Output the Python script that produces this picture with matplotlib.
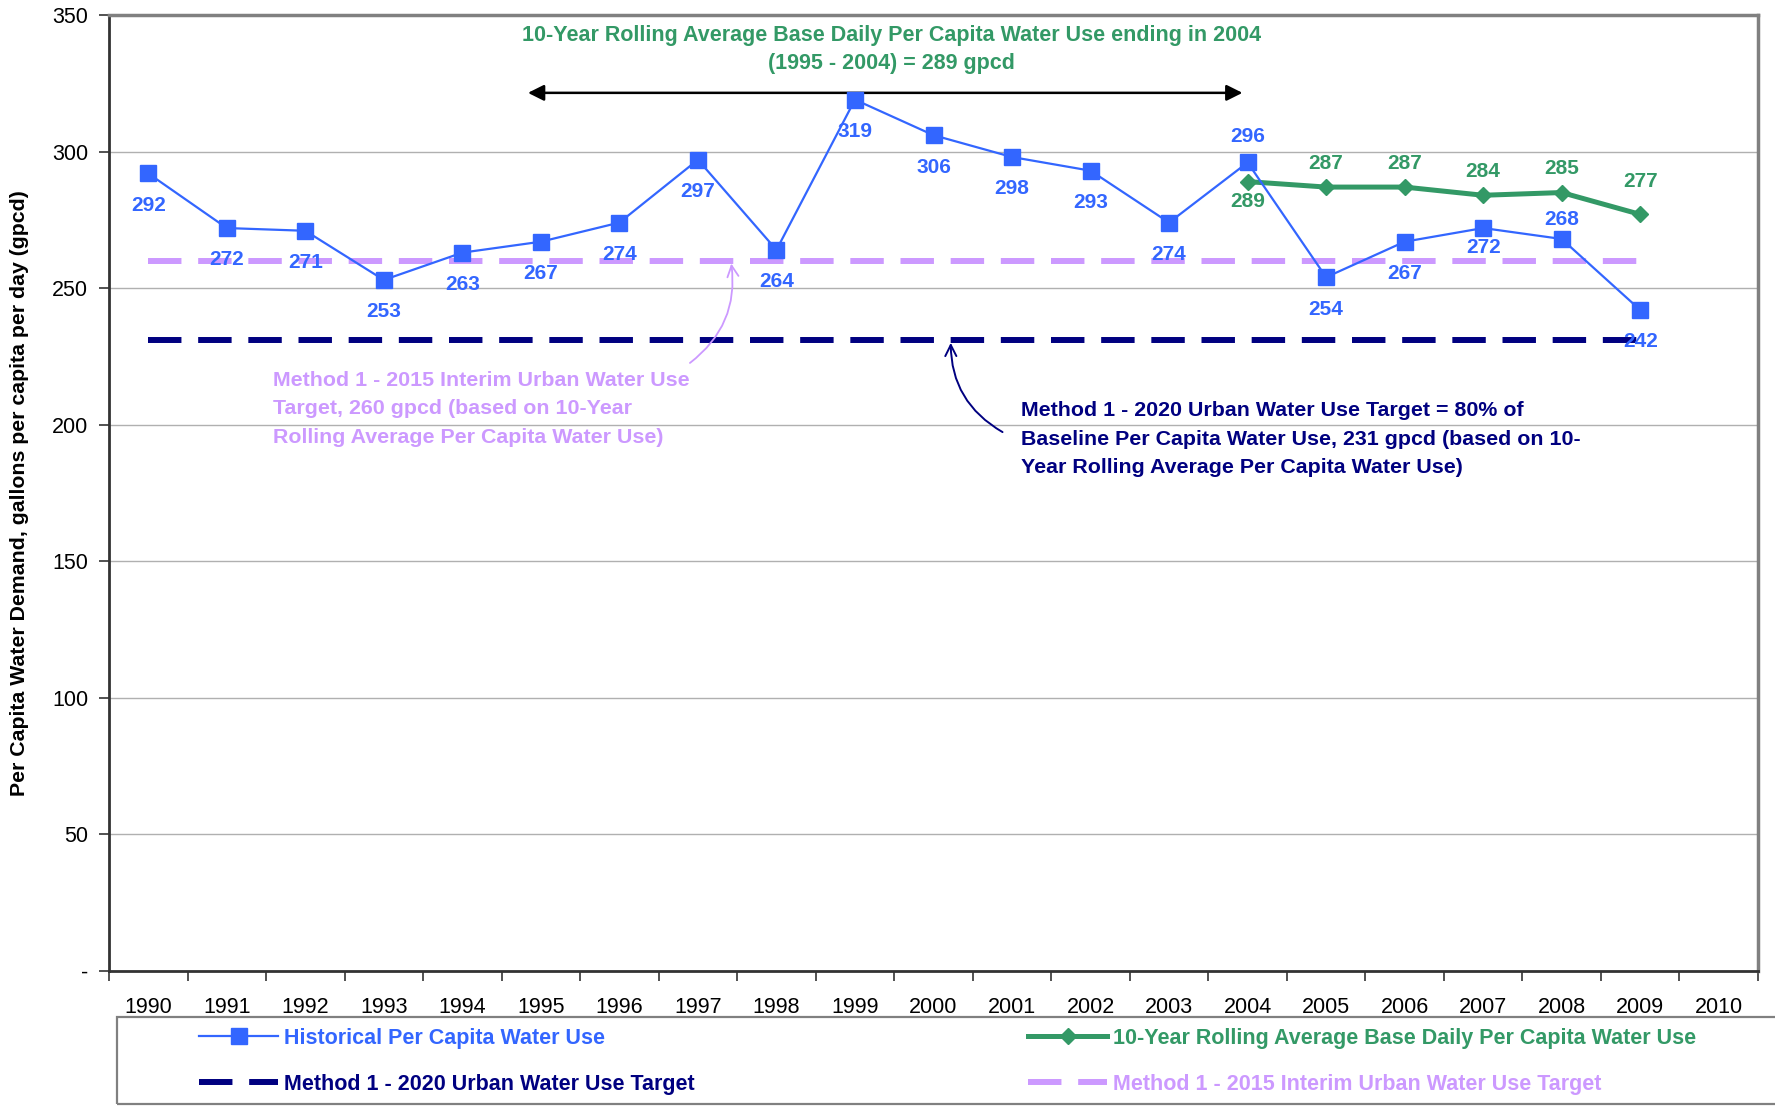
import matplotlib
matplotlib.use("Agg")
import matplotlib.pyplot as plt
import numpy as np
from matplotlib.lines import Line2D
from matplotlib.patches import Rectangle

plt.rcParams['font.family'] = ['Liberation Sans', 'DejaVu Sans']

# ---- data ----
years = [str(y) for y in range(1990, 2011)]
hist_years = list(range(1990, 2010))
hist_gpcd = [292, 272, 271, 253, 263, 267, 274, 297, 264, 319,
             306, 298, 293, 274, 296, 254, 267, 272, 268, 242]
roll_years = [2004, 2005, 2006, 2007, 2008, 2009]
roll_gpcd = [289, 287, 287, 284, 285, 277]
target_2020 = 231
target_2015 = 260
base_start, base_end = 1995, 2004

# label offsets in points (negative = below the marker)
hist_dy = [-23] * 20
hist_dy[14] = 19   # 2004 above
hist_dy[17] = -14  # 2007
hist_dy[18] = 14   # 2008 above
roll_dy = [-14, 17, 17, 17, 17, 24]

BLUE = '#3366FF'
GREEN = '#339966'
NAVY = '#000080'
LAV = '#CC99FF'

fig = plt.figure(figsize=(17.75, 11.07), dpi=100)
ax = fig.add_axes([109 / 1775, 1 - 971 / 1107, (1758 - 109) / 1775, (971 - 15) / 1107])

x_hist = np.array(hist_years) - 1990
x_roll = np.array(roll_years) - 1990

# target lines
ax.plot(x_hist, [target_2015] * len(x_hist), color=LAV, lw=4.3, dashes=(5.6, 2.8), zorder=2)
ax.plot(x_hist, [target_2020] * len(x_hist), color=NAVY, lw=4.3, dashes=(5.6, 2.8), zorder=2)

# series
ax.plot(x_hist, hist_gpcd, color=BLUE, lw=1.6, marker='s', ms=11, zorder=4)
ax.plot(x_roll, roll_gpcd, color=GREEN, lw=3.6, marker='D', ms=8.5, zorder=3)

for xi, v, dy in zip(x_hist, hist_gpcd, hist_dy):
    ax.annotate(str(v), (xi, v), xytext=(0, dy), textcoords='offset points',
                ha='center', va='center', color=BLUE, fontsize=15, fontweight='bold', zorder=5)
for xi, v, dy in zip(x_roll, roll_gpcd, roll_dy):
    ax.annotate(str(v), (xi, v), xytext=(0, dy), textcoords='offset points',
                ha='center', va='center', color=GREEN, fontsize=15, fontweight='bold', zorder=5)

# axes styling
ax.set_xlim(-0.5, len(years) - 0.5)
ax.set_ylim(0, 350)
ax.set_yticks(np.arange(0, 351, 50))
ax.set_yticklabels(['-'] + [str(v) for v in range(50, 351, 50)], fontsize=15.5)
ax.set_xticks(np.arange(len(years)))
ax.set_xticklabels(years, fontsize=15.5)
ax.set_xticks(np.arange(len(years) + 1) - 0.5, minor=True)
ax.tick_params(axis='x', which='major', length=0, pad=18.5)
ax.tick_params(axis='x', which='minor', length=7, width=1.2, direction='out', color='#333333')
ax.tick_params(axis='y', length=7, width=1.2, direction='out', color='#333333', pad=8)
ax.grid(axis='y', color='#B0B0B0', lw=1.0)
ax.set_axisbelow(True)
for s in ['left', 'bottom']:
    ax.spines[s].set_color('#333333')
    ax.spines[s].set_linewidth(2)
for s in ['top', 'right']:
    ax.spines[s].set_color('#808080')
    ax.spines[s].set_linewidth(2.5)

ax.set_ylabel('Per Capita Water Demand, gallons per capita per day (gpcd)',
              fontsize=15.3, fontweight='bold')
ax.yaxis.set_label_coords(-0.0485, 0.5)

# baseline period arrow and title
ax.annotate('', xy=(base_start - 1990 - 0.2, 321.5), xytext=(base_end - 1990 - 0.03, 321.5),
            arrowprops=dict(arrowstyle='<|-|>', color='black', lw=1.8, mutation_scale=24))
ax.text(9.47, 342.6, '10-Year Rolling Average Base Daily Per Capita Water Use ending in 2004',
        ha='center', va='center', color=GREEN, fontsize=15.5, fontweight='bold')
ax.text(9.47, 332.3, f'({base_start} - {base_end}) = {roll_gpcd[0]} gpcd',
        ha='center', va='center', color=GREEN, fontsize=15.5, fontweight='bold')

# 2015 interim target note
ax.text(1.59, 219.8, 'Method 1 - 2015 Interim Urban Water Use\nTarget, 260 gpcd (based on 10-Year\n'
        'Rolling Average Per Capita Water Use)',
        ha='left', va='top', color=LAV, fontsize=15.4, fontweight='bold', linespacing=1.63)
ax.annotate('', xy=(7.42, target_2015), xytext=(6.87, 222),
            arrowprops=dict(arrowstyle='->', color=LAV, lw=1.3, mutation_scale=20,
                            connectionstyle='arc3,rad=0.3'))

# 2020 target note
ax.text(11.12, 208.6, 'Method 1 - 2020 Urban Water Use Target = 80% of\nBaseline Per Capita Water Use, '
        '231 gpcd (based on 10-\nYear Rolling Average Per Capita Water Use)',
        ha='left', va='top', color=NAVY, fontsize=15.4, fontweight='bold', linespacing=1.63)
ax.annotate('', xy=(10.22, target_2020), xytext=(10.91, 196.8),
            arrowprops=dict(arrowstyle='->', color=NAVY, lw=1.4, mutation_scale=20,
                            connectionstyle='arc3,rad=-0.3'))

# legend box
fig.patches.append(Rectangle((117 / 1775, 3 / 1107), 1.0, 87 / 1107, transform=fig.transFigure,
                             fill=False, edgecolor='#808080', lw=1.6))

h_hist = Line2D([], [], color=BLUE, lw=1.6, marker='s', ms=11)
h_2020 = Line2D([], [], color=NAVY, lw=4.3, dashes=(5.6, 2.8))
h_roll = Line2D([], [], color=GREEN, lw=3.6, marker='D', ms=8.5)
h_2015 = Line2D([], [], color=LAV, lw=4.3, dashes=(5.6, 2.8))

leg_kw = dict(loc='upper left', bbox_transform=fig.transFigure, frameon=False, borderpad=0,
              borderaxespad=0, handlelength=3.67, handletextpad=0.28, labelspacing=1.16,
              prop=dict(size=15.5, weight='bold'))
leg1 = fig.legend([h_hist, h_2020], ['Historical Per Capita Water Use',
                                     'Method 1 - 2020 Urban Water Use Target'],
                  bbox_to_anchor=(199 / 1775, 1 - 1028 / 1107), labelcolor=[BLUE, NAVY], **leg_kw)
leg2 = fig.legend([h_roll, h_2015], ['10-Year Rolling Average Base Daily Per Capita Water Use',
                                     'Method 1 - 2015 Interim Urban Water Use Target'],
                  bbox_to_anchor=(1028 / 1775, 1 - 1028 / 1107), labelcolor=[GREEN, LAV], **leg_kw)

fig.savefig('out.png', dpi=100)
